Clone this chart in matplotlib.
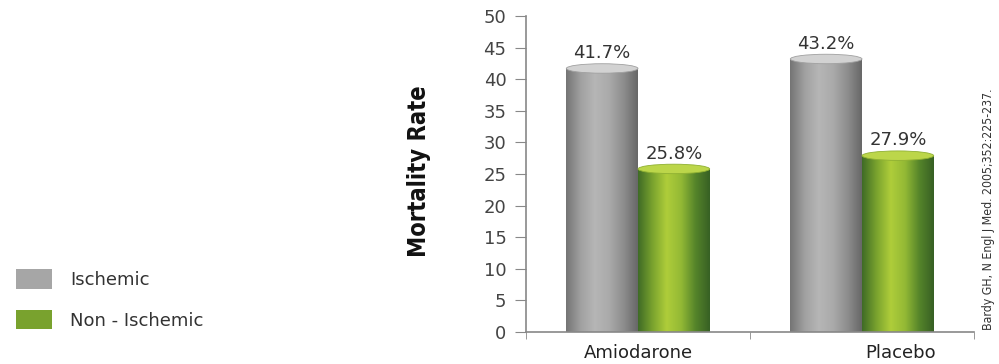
import numpy as np
import matplotlib
matplotlib.use('Agg')
import matplotlib.pyplot as plt
from matplotlib.patches import Ellipse, Patch
from matplotlib.colors import LinearSegmentedColormap

groups = ['Amiodarone', 'Placebo']
ischemic = [41.7, 43.2]
non_ischemic = [25.8, 27.9]
series_names = ['Ischemic', 'Non - Ischemic']
citation = 'Bardy GH, N Engl J Med. 2005;352:225-237.'

plt.rcParams['font.family'] = ['DejaVu Sans']

gray_cmap = LinearSegmentedColormap.from_list(
    'cyl_gray', ['#747474', '#a0a0a0', '#b6b6b6', '#aaaaaa', '#8e8e8e', '#676767'])
green_cmap = LinearSegmentedColormap.from_list(
    'cyl_green', ['#3f6b26', '#79a22e', '#afcd3a', '#93b935', '#55842a', '#376024'])


def cylinder(ax, x, h, w, cmap, cap, rim):
    bar = ax.bar(x, h, width=w, color='none', edgecolor='none')[0]
    grad = np.linspace(0, 1, 256).reshape(1, -1)
    im = ax.imshow(grad, cmap=cmap, aspect='auto', extent=(x - w / 2, x + w / 2, 0, h),
                   interpolation='bilinear', vmin=0, vmax=1, zorder=2)
    im.set_clip_path(bar)
    ax.add_patch(Ellipse((x, h), w, 1.5, facecolor=cap, edgecolor=rim,
                         linewidth=0.6, zorder=3))


fig = plt.figure(figsize=(9.99, 3.64), dpi=100)
ax = fig.add_axes([0.5265, 0.088, 0.4485, 0.868])

w = 0.32
x = np.arange(len(groups))
for i in x:
    cylinder(ax, i - w / 2, ischemic[i], w, gray_cmap, '#d2d2d2', '#a0a0a0')
    cylinder(ax, i + w / 2, non_ischemic[i], w, green_cmap, '#bcd64a', '#8fb032')
    ax.text(i - w / 2, ischemic[i] + 1.0, f'{ischemic[i]}%', ha='center', va='bottom',
            fontsize=13, color='#333333')
    ax.text(i + w / 2, non_ischemic[i] + 1.0, f'{non_ischemic[i]}%', ha='center', va='bottom',
            fontsize=13, color='#333333')

ax.set_xlim(-0.5, 1.5)
ax.set_ylim(0, 50)
ax.set_yticks(np.arange(0, 51, 5))
# the second group label sits a little right of its bars
ax.set_xticks([0, 1.17])
ax.set_xticklabels(groups)
ax.set_xticks([-0.5, 0.5, 1.5], minor=True)
ax.tick_params(axis='x', which='major', length=0, pad=9, labelsize=13, labelcolor='#222222')
ax.tick_params(axis='x', which='minor', length=5, direction='out', color='#888888')
ax.tick_params(axis='y', length=8, direction='out', color='#888888', pad=6,
               labelsize=13, labelcolor='#444444')
for side in ['top', 'right']:
    ax.spines[side].set_visible(False)
for side in ['left', 'bottom']:
    ax.spines[side].set_color('#888888')
    ax.spines[side].set_linewidth(1.2)

ax.set_ylabel('Mortality Rate', fontsize=17, fontweight='bold', color='#111111',
              fontstretch='condensed')
ax.yaxis.set_label_coords(-0.212, 0.51)

fig.text(0.989, 0.093, citation, rotation=90, ha='center', va='bottom', fontsize=8.8,
         color='#333333', fontstretch='condensed')

handles = [Patch(facecolor='#a6a6a6', edgecolor='none'),
           Patch(facecolor='#79a22e', edgecolor='none')]
fig.legend(handles, series_names, loc='lower left', bbox_to_anchor=(0.0, 0.05),
           frameon=False, fontsize=13, handlelength=2.0, handleheight=1.3,
           labelspacing=1.15, handletextpad=1.0, labelcolor='#333333')

fig.savefig('out.png', dpi=100, facecolor='white')
